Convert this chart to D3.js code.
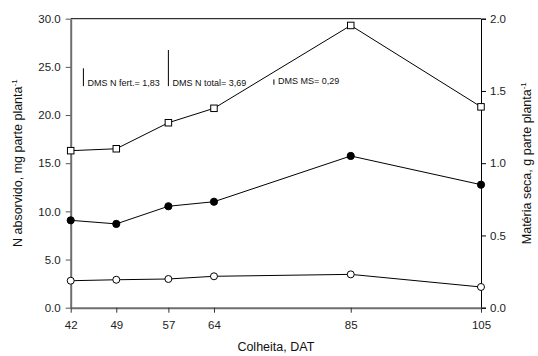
<!DOCTYPE html>
<html>
<head>
<meta charset="utf-8">
<script src="https://cdn.jsdelivr.net/npm/d3@7"></script>
<style>
  body { margin: 0; background: #fff; }
  svg { font-family: "Liberation Sans", Arial, sans-serif; }
</style>
</head>
<body>
<div id="chart"></div>
<script>
// harvest days (DAT)
const dias = [42, 49, 57, 64, 85, 105];
// series (left axis, mg/plant part)
const quadrados = [16.3, 16.5, 19.2, 20.7, 29.3, 20.85];
const circCheios = [9.07, 8.7, 10.53, 11.0, 15.75, 12.77];
const circAbertos = [2.8, 2.9, 2.98, 3.26, 3.46, 2.15];

const yTicksEsq = [0, 5, 10, 15, 20, 25, 30];
const yTicksDir = [0, 0.5, 1.0, 1.5, 2.0];

// DMS annotations: label, x (DAT), bar bottom / top on left scale
const dmsLabels = ['DMS N fert.= 1,83', 'DMS N total= 3,69', 'DMS MS= 0,29'];
const dmsX = [43.95, 57.0, 73.2];
const dmsBase = [23.0, 23.0, 23.15];
const dmsTopo = [24.85, 26.75, 23.7];

const W = 538, H = 356;
const margin = { top: 18.7, right: 57, bottom: 48.3, left: 70.7 };
const width = W - margin.left - margin.right;
const height = H - margin.top - margin.bottom;

const svg = d3.select('#chart').append('svg')
  .attr('width', W)
  .attr('height', H);

const g = svg.append('g')
  .attr('transform', `translate(${margin.left},${margin.top})`);

const x = d3.scaleLinear().domain([42, 105]).range([0, width]);
const y = d3.scaleLinear().domain([0, 30]).range([height, 0]);
const y2 = d3.scaleLinear().domain([0, 2]).range([height, 0]);

// top border
g.append('line')
  .attr('x1', 0).attr('x2', width).attr('y1', 0).attr('y2', 0)
  .attr('stroke', '#000').attr('stroke-width', 1);

// right axis
const axR = g.append('g')
  .attr('transform', `translate(${width},0)`)
  .call(d3.axisRight(y2).tickValues(yTicksDir).tickFormat(d3.format('.1f')).tickSize(5).tickPadding(4));
axR.select('.domain').attr('stroke', '#000');
axR.selectAll('text').attr('font-size', 11.5).attr('fill', '#222').attr('font-family', '"Liberation Sans", Arial');

// left axis
const axL = g.append('g')
  .call(d3.axisLeft(y).tickValues(yTicksEsq).tickFormat(d3.format('.1f')).tickSize(5).tickPadding(5).tickSizeOuter(0));
axL.select('.domain').attr('stroke', '#6e6e6e').attr('stroke-width', 2);
axL.selectAll('.tick line').attr('stroke', '#555');
axL.selectAll('text').attr('font-size', 11.5).attr('fill', '#222').attr('font-family', '"Liberation Sans", Arial');

// bottom axis
const axB = g.append('g')
  .attr('transform', `translate(0,${height})`)
  .call(d3.axisBottom(x).tickValues(dias).tickFormat(d3.format('d')).tickSize(5).tickPadding(8).tickSizeOuter(0));
axB.select('.domain').attr('stroke', '#6e6e6e').attr('stroke-width', 2);
axB.selectAll('.tick line').attr('stroke', '#333');
axB.selectAll('text').attr('font-size', 11.5).attr('fill', '#222').attr('font-family', '"Liberation Sans", Arial');

// lines
const linha = d3.line().x((d, i) => x(dias[i])).y(d => y(d));
[circAbertos, circCheios, quadrados].forEach(s => {
  g.append('path')
    .datum(s)
    .attr('d', linha)
    .attr('fill', 'none')
    .attr('stroke', '#000')
    .attr('stroke-width', 1);
});

// markers
g.selectAll('.aberto').data(circAbertos).enter().append('circle')
  .attr('class', 'aberto')
  .attr('cx', (d, i) => x(dias[i])).attr('cy', d => y(d)).attr('r', 3.5)
  .attr('fill', '#fff').attr('stroke', '#000').attr('stroke-width', 1);

g.selectAll('.cheio').data(circCheios).enter().append('circle')
  .attr('class', 'cheio')
  .attr('cx', (d, i) => x(dias[i])).attr('cy', d => y(d)).attr('r', 3.6)
  .attr('fill', '#000').attr('stroke', '#000').attr('stroke-width', 1);

const lado = 6.5;
g.selectAll('.quad').data(quadrados).enter().append('rect')
  .attr('class', 'quad')
  .attr('x', (d, i) => x(dias[i]) - lado / 2).attr('y', d => y(d) - lado / 2)
  .attr('width', lado).attr('height', lado)
  .attr('fill', '#fff').attr('stroke', '#000').attr('stroke-width', 1);

// DMS bars and labels
dmsLabels.forEach((lab, i) => {
  g.append('line')
    .attr('x1', x(dmsX[i])).attr('x2', x(dmsX[i]))
    .attr('y1', y(dmsBase[i])).attr('y2', y(dmsTopo[i]))
    .attr('stroke', '#000').attr('stroke-width', 1);
  g.append('text')
    .attr('x', x(dmsX[i]) + 4)
    .attr('y', y(dmsBase[i]) - 0.5)
    .attr('font-size', 9)
    .attr('fill', '#111')
    .text(lab);
});

// axis titles
const tituloE = svg.append('text')
  .attr('transform', `translate(22,${margin.top + height / 2}) rotate(-90)`)
  .attr('text-anchor', 'middle')
  .attr('font-size', 12.5)
  .attr('fill', '#111');
tituloE.append('tspan').text('N absorvido, mg parte planta');
tituloE.append('tspan').attr('font-size', 8).attr('dy', -5).text('-1');

const tituloD = svg.append('text')
  .attr('transform', `translate(531,${margin.top + height / 2}) rotate(-90)`)
  .attr('text-anchor', 'middle')
  .attr('font-size', 12.5)
  .attr('fill', '#111');
tituloD.append('tspan').text('Matéria seca, g parte planta');
tituloD.append('tspan').attr('font-size', 8).attr('dy', -5).text('-1');

svg.append('text')
  .attr('x', margin.left + width / 2)
  .attr('y', 351)
  .attr('text-anchor', 'middle')
  .attr('font-size', 12.5)
  .attr('fill', '#111')
  .text('Colheita, DAT');
</script>
</body>
</html>
